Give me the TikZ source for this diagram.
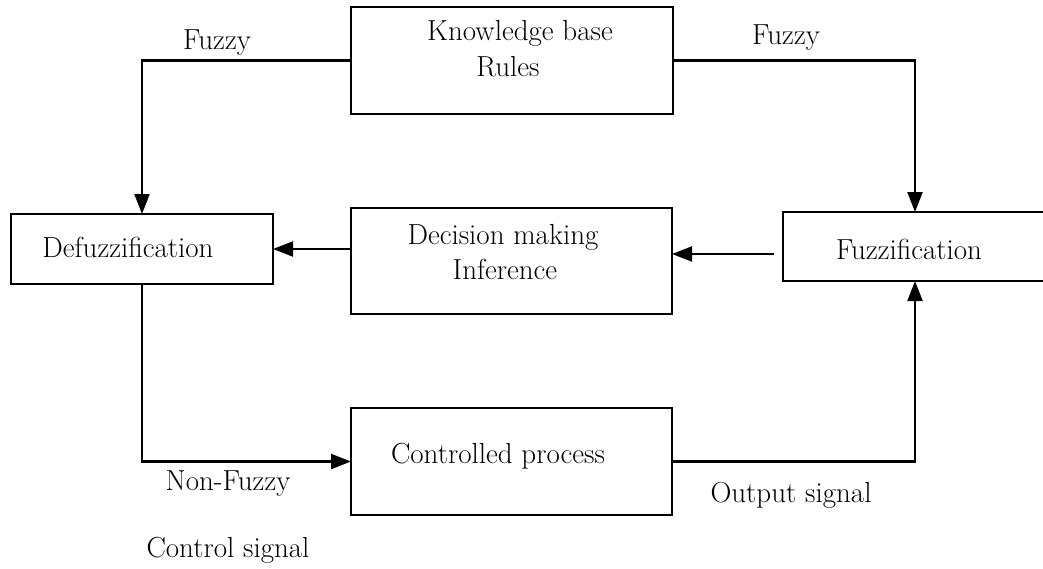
\documentclass[tikz,border=0pt]{standalone}
\usetikzlibrary{arrows.meta}
\begin{document}
\begin{tikzpicture}[x=1pt,y=-1pt,
  blockbox/.style={draw, line width=1.3pt, inner sep=0pt, outer sep=0pt},
  conn/.style={line width=2.2pt, -{Triangle[length=20pt,width=15pt]}},
  txt/.style={anchor=base, inner sep=0pt, font=\fontsize{29}{33}\selectfont}]
  \clip (0,0) rectangle (1043,568);
  \useasboundingbox (0,0) rectangle (1043,568);

  % blocks
  \node[blockbox, minimum width=322pt, minimum height=107pt] (kb)   at (512,60.5)  {};
  \node[blockbox, minimum width=262pt, minimum height=70pt]  (defz) at (142,249)   {};
  \node[blockbox, minimum width=321pt, minimum height=106pt] (dec)  at (511.5,261) {};
  \node[blockbox, minimum width=264pt, minimum height=69pt]  (fuzz) at (915,246.5) {};
  \node[blockbox, minimum width=321pt, minimum height=107pt] (ctrl) at (511.5,461.5) {};

  % block texts
  \node[txt] (kbt1) at (520,40)  {Knowledge base};
  \node[txt] (kbt2) at (508,76)  {Rules};
  \node[txt] (dft)  at (128,257) {Defuzzification};
  \node[txt] (dct1) at (503,244) {Decision making};
  \node[txt] (dct2) at (505,279) {Inference};
  \node[txt] (fzt)  at (909,259) {Fuzzification};
  \node[txt] (cpt)  at (498,463) {Controlled process};

  % signal labels
  \node[txt] (lfz)  at (217,49)  {Fuzzy};
  \node[txt] (rfz)  at (786,44)  {Fuzzy};
  \node[txt] (nfz)  at (228,490) {Non-Fuzzy};
  \node[txt] (outs) at (791,502) {Output signal};
  \node[txt] (ctls) at (228,557) {Control signal};

  % connectors
  \coordinate (fzout) at (774,254);
  \draw[conn] (kb.west) -| (defz.north);
  \draw[conn] (kb.east) -| (fuzz.north);
  \draw[conn] (dec.west |- defz.east) -- (defz.east);
  \draw[conn] (fzout) -- (dec.east |- fzout);
  \draw[conn] (defz.south) |- (ctrl.west);
  \draw[conn] (ctrl.east) -| (fuzz.south);
\end{tikzpicture}
\end{document}
